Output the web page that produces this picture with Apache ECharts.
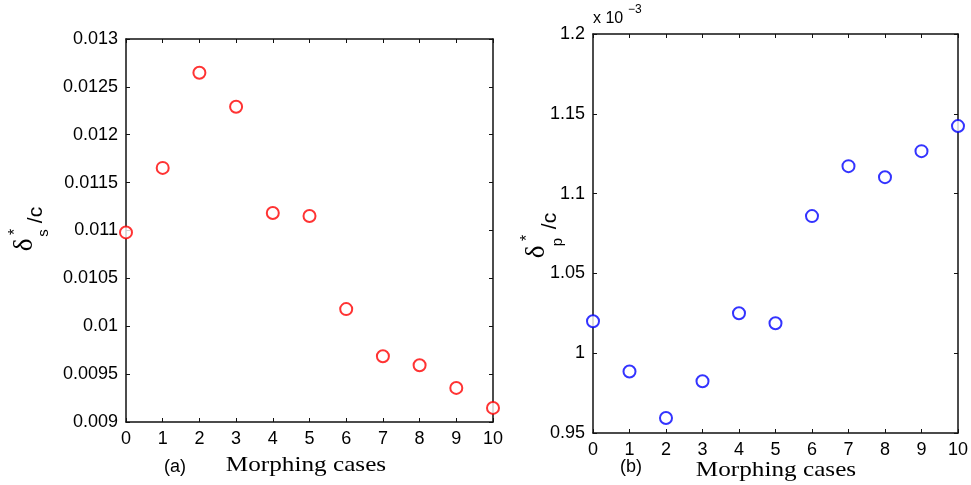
<!DOCTYPE html>
<html>
<head>
<meta charset="utf-8">
<script src="https://cdn.jsdelivr.net/npm/echarts@6/dist/echarts.min.js"></script>
<style>
html,body{margin:0;padding:0;background:#fff;}
#chart{width:971px;height:485px;}
</style>
</head>
<body>
<div id="chart"></div>
<script>
// ---- data ----
var morphingCases = [0, 1, 2, 3, 4, 5, 6, 7, 8, 9, 10];
var deltaS = [0.01098, 0.011654, 0.012648, 0.012292, 0.011183, 0.011152, 0.010179, 0.009687, 0.009593, 0.009356, 0.009147];
var deltaP_x1e3 = [1.020, 0.9885, 0.9594, 0.9824, 1.025, 1.0188, 1.0859, 1.1172, 1.1103, 1.1266, 1.1423];
var xTicks = {min: 0, max: 10, interval: 1};
var yTicksA = {min: 0.009, max: 0.013, interval: 0.0005};
var yTicksB = {min: 0.95, max: 1.2, interval: 0.05};
var xLabel = 'Morphing cases';

function pairs(xs, ys) { return xs.map(function (x, i) { return [x, ys[i]]; }); }

var SANS = '"Liberation Sans", Arial, Helvetica, sans-serif';
var SERIF = '"Liberation Serif", "Times New Roman", serif';
var lineStyle = {color: '#111', width: 1.5};

function xAx(grid, pos, labels) {
  return {
    type: 'value', gridIndex: grid, position: pos,
    min: xTicks.min, max: xTicks.max, interval: xTicks.interval,
    axisLine: {show: true, onZero: false, lineStyle: lineStyle},
    axisTick: {show: true, inside: true, length: 4, lineStyle: {color: '#111', width: 1}},
    axisLabel: {show: labels, color: '#000', fontSize: 18, fontFamily: SANS, margin: 8},
    splitLine: {show: false}
  };
}
function yAx(grid, pos, labels, t, fmt) {
  return {
    type: 'value', gridIndex: grid, position: pos,
    min: t.min, max: t.max, interval: t.interval,
    axisLine: {show: true, onZero: false, lineStyle: lineStyle},
    axisTick: {show: true, inside: true, length: 4, lineStyle: {color: '#111', width: 1}},
    axisLabel: {show: labels, color: '#000', fontSize: 18, fontFamily: SANS, margin: 8, formatter: fmt},
    splitLine: {show: false}
  };
}
var fmtA = function (v) { return String(parseFloat(v.toFixed(5))); };
var fmtB = function (v) { return String(parseFloat(v.toFixed(3))); };

function rt(x, y, text, size, fam) {
  return {type: 'text', x: x, y: y, rotation: Math.PI / 2,
    style: {text: text, fontSize: size, fontFamily: fam, fill: '#000', align: 'center', verticalAlign: 'middle'}};
}
function ht(x, y, text, size, fam, sx) {
  return {type: 'text', x: x, y: y, scaleX: sx || 1,
    style: {text: text, fontSize: size, fontFamily: fam, fill: '#000', align: 'center', verticalAlign: 'middle'}};
}

var chart = echarts.init(document.getElementById('chart'), null, {renderer: 'canvas'});
chart.setOption({
  animation: false,
  backgroundColor: '#fff',
  grid: [
    {left: 126, top: 39, width: 367, height: 383},
    {left: 593, top: 34, width: 365, height: 399}
  ],
  xAxis: [xAx(0, 'bottom', true), xAx(0, 'top', false), xAx(1, 'bottom', true), xAx(1, 'top', false)],
  yAxis: [yAx(0, 'left', true, yTicksA, fmtA), yAx(0, 'right', false, yTicksA, fmtA),
          yAx(1, 'left', true, yTicksB, fmtB), yAx(1, 'right', false, yTicksB, fmtB)],
  series: [
    {type: 'scatter', xAxisIndex: 0, yAxisIndex: 0, data: pairs(morphingCases, deltaS),
     symbol: 'emptyCircle', symbolSize: 12, itemStyle: {color: '#ff0000', borderColor: '#ff0000', borderWidth: 0.9}},
    {type: 'scatter', xAxisIndex: 2, yAxisIndex: 2, data: pairs(morphingCases, deltaP_x1e3),
     symbol: 'emptyCircle', symbolSize: 12, itemStyle: {color: '#0000ff', borderColor: '#0000ff', borderWidth: 0.9}}
  ],
  graphic: [
    // left y title
    rt(25, 245, 'δ', 27, SERIF),
    rt(16, 232, '*', 16, SANS),
    rt(44, 233, 's', 15, SANS),
    rt(36, 215, '/c', 21, SANS),
    // right y title
    rt(537, 252, 'δ', 27, SERIF),
    rt(528, 238, '*', 16, SANS),
    rt(558, 242, 'p', 15, SANS),
    rt(550, 221, '/c', 21, SANS),
    // exponent
    {type: 'text', x: 593, y: 19, style: {text: 'x 10', fontSize: 16, fontFamily: SANS, fill: '#000', align: 'left', verticalAlign: 'middle'}},
    {type: 'text', x: 628, y: 10, style: {text: '−3', fontSize: 12, fontFamily: SANS, fill: '#000', align: 'left', verticalAlign: 'middle'}},
    // x titles
    ht(306, 465, xLabel, 21, SERIF, 1.2),
    ht(776, 470, xLabel, 21, SERIF, 1.2),
    ht(175, 467, '(a)', 18, SANS),
    ht(631, 467, '(b)', 18, SANS)
  ]
});
</script>
</body>
</html>
